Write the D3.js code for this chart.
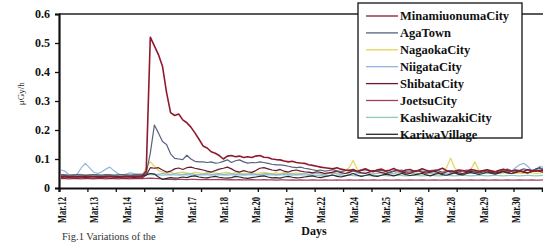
<!DOCTYPE html>
<html><head><meta charset="utf-8">
<script src="https://cdn.jsdelivr.net/npm/d3@7"></script>
<style>
html,body{margin:0;padding:0;background:#fff;}
svg{display:block;font-family:"Liberation Serif","Times New Roman",serif;}
</style></head>
<body><svg id="c" width="543" height="243"></svg>
<script>
// ---- data (3-hourly categories) ----
const dateLabels = ["Mar.12","Mar.13","Mar.14","Mar.16","Mar.17","Mar.18","Mar.20","Mar.21","Mar.22","Mar.24","Mar.25","Mar.26","Mar.28","Mar.29","Mar.30"];
const labelEvery = 8;   // one date label every 8 categories
const tickEvery = 7;    // tick mark every 7 categories
const categoryCount = 121;
const yTicks = [0,0.1,0.2,0.3,0.4,0.5,0.6];

const cityNames = ["MinamiuonumaCity","AgaTown","NagaokaCity","NiigataCity","ShibataCity","JoetsuCity","KashiwazakiCity","KariwaVillage"];
const cityColors = ["#8e1a2c","#56627e","#e2d55a","#93b4e0","#6a1a2a","#a04068","#8fcac0","#2a2a2a"];

const minamiuonuma = [0.04,0.04,0.039,0.04,0.038,0.039,0.04,0.04,0.039,0.038,0.039,0.04,0.04,0.039,0.038,0.039,0.04,0.039,0.04,0.04,0.041,
 0.06,0.52,0.49,0.46,0.42,0.33,0.26,0.25,0.255,0.235,0.225,0.21,0.19,0.168,0.145,0.138,0.125,0.12,0.112,0.1,
 0.11,0.112,0.108,0.11,0.105,0.108,0.105,0.11,0.112,0.106,0.105,0.1,0.098,0.097,0.093,0.09,0.092,0.088,0.086,0.085,
 0.08,0.078,0.075,0.072,0.07,0.068,0.066,0.07,0.065,0.062,
 0.06,0.064,0.058,0.062,0.066,0.06,0.057,0.063,0.065,0.059,0.061,0.067,0.06,0.056,0.062,0.064,0.058,0.06,0.066,0.061,
 0.057,0.059,0.063,0.068,0.06,0.055,0.058,0.062,0.06,0.057,0.064,0.061,0.058,0.06,0.063,0.059,0.056,0.061,0.065,0.06,
 0.058,0.062,0.059,0.057,0.063,0.06,0.058,0.061,0.059,0.057];
const agaTown = [0.046,0.045,0.044,0.045,0.046,0.045,0.044,0.045,0.046,0.045,0.044,0.046,0.045,0.044,0.045,0.046,0.045,0.044,0.045,0.046,0.045,
 0.05,0.12,0.217,0.19,0.16,0.15,0.118,0.102,0.1,0.098,0.113,0.1,0.092,0.09,0.09,0.088,0.09,0.086,0.087,0.092,
 0.097,0.088,0.094,0.097,0.09,0.086,0.088,0.087,0.09,0.088,0.085,0.082,0.08,0.08,0.078,0.075,0.072,0.07,0.072,0.068,
 0.066,0.063,0.06,0.062,0.058,0.06,0.063,0.059,0.057,0.06,0.062,0.058,0.055,0.06,0.063,0.058,0.056,0.059,0.061,0.057,
 0.054,0.058,0.06,0.062,0.057,0.055,0.059,0.061,0.058,0.056,0.06,0.062,0.059,0.055,0.057,0.06,0.058,0.056,0.059,0.062,
 0.06,0.057,0.055,0.058,0.061,0.059,0.056,0.058,0.062,0.065,0.06,0.058,0.061,0.066,0.063,0.06,0.064,0.068,0.065,0.062];
const nagaoka = [0.043,0.042,0.043,0.044,0.042,0.043,0.042,0.044,0.043,0.042,0.043,0.044,0.043,0.042,0.043,0.042,0.044,0.043,0.042,0.043,0.044,
 0.07,0.09,0.075,0.06,0.055,0.052,0.054,0.05,0.053,0.055,0.052,0.05,0.054,0.052,0.05,0.053,0.055,0.051,0.05,0.052,
 0.054,0.05,0.052,0.053,0.05,0.051,0.053,0.05,0.052,0.054,0.051,0.05,0.052,0.05,0.053,0.051,0.05,0.052,0.05,0.051,
 0.053,0.05,0.052,0.05,0.051,0.053,0.05,0.052,0.051,0.06,0.07,0.095,0.065,0.052,0.05,0.053,0.051,0.05,0.052,0.054,
 0.05,0.051,0.053,0.05,0.052,0.05,0.054,0.051,0.05,0.052,0.053,0.05,0.051,0.052,0.07,0.103,0.07,0.052,0.05,0.053,
 0.065,0.09,0.06,0.051,0.05,0.053,0.052,0.05,0.051,0.053,0.05,0.052,0.051,0.05,0.053,0.052,0.05,0.051,0.053,0.052];
const niigata = [0.062,0.058,0.045,0.04,0.048,0.07,0.085,0.07,0.055,0.05,0.055,0.065,0.072,0.06,0.05,0.045,0.048,0.052,0.05,0.048,0.05,
 0.052,0.05,0.048,0.047,0.05,0.048,0.046,0.05,0.048,0.047,0.049,0.05,0.047,0.046,0.048,0.05,0.047,0.048,0.05,0.046,
 0.048,0.05,0.047,0.049,0.046,0.048,0.05,0.047,0.046,0.049,0.05,0.048,0.046,0.047,0.05,0.048,0.049,0.046,0.048,0.05,
 0.047,0.049,0.05,0.048,0.046,0.05,0.052,0.049,0.047,0.05,0.053,0.05,0.048,0.052,0.055,0.05,0.048,0.051,0.054,0.05,
 0.052,0.049,0.055,0.052,0.05,0.053,0.05,0.048,0.052,0.055,0.05,0.053,0.051,0.049,0.052,0.05,0.054,0.051,0.05,0.053,
 0.052,0.05,0.055,0.052,0.05,0.054,0.051,0.055,0.06,0.056,0.058,0.07,0.08,0.085,0.075,0.06,0.065,0.075,0.07,0.06];
const shibata = [0.036,0.035,0.036,0.035,0.034,0.035,0.036,0.035,0.034,0.035,0.036,0.035,0.034,0.035,0.036,0.035,0.034,0.035,0.036,0.035,0.035,
 0.045,0.07,0.068,0.07,0.062,0.055,0.058,0.066,0.069,0.064,0.07,0.072,0.068,0.065,0.062,0.058,0.055,0.06,0.065,0.068,
 0.072,0.066,0.058,0.055,0.06,0.056,0.054,0.06,0.068,0.07,0.066,0.062,0.06,0.064,0.058,0.055,0.06,0.062,0.058,0.056,
 0.055,0.052,0.056,0.054,0.05,0.052,0.055,0.058,0.053,0.05,0.054,0.06,0.056,0.052,0.05,0.055,0.06,0.057,0.053,0.05,
 0.054,0.058,0.062,0.055,0.052,0.05,0.056,0.06,0.054,0.051,0.055,0.058,0.053,0.05,0.056,0.06,0.055,0.052,0.05,0.054,
 0.058,0.055,0.052,0.056,0.06,0.054,0.051,0.055,0.058,0.054,0.05,0.053,0.057,0.055,0.052,0.056,0.06,0.057,0.054,0.052];
const joetsu = [0.032,0.032,0.031,0.032,0.032,0.031,0.032,0.032,0.031,0.032,0.032,0.031,0.032,0.032,0.031,0.032,0.032,0.031,0.032,0.032,0.032,
 0.033,0.034,0.033,0.032,0.031,0.03,0.03,0.029,0.03,0.03,0.029,0.03,0.03,0.029,0.029,0.03,0.029,0.029,0.03,0.029,
 0.028,0.029,0.028,0.029,0.028,0.028,0.029,0.028,0.028,0.029,0.028,0.028,0.027,0.028,0.028,0.027,0.028,0.027,0.028,0.027,
 0.027,0.028,0.027,0.027,0.028,0.027,0.027,0.028,0.027,0.027,0.028,0.027,0.027,0.028,0.027,0.027,0.028,0.027,0.027,0.028,
 0.027,0.027,0.028,0.027,0.027,0.028,0.027,0.027,0.028,0.027,0.027,0.028,0.027,0.027,0.028,0.027,0.027,0.028,0.027,0.027,
 0.028,0.027,0.027,0.028,0.027,0.027,0.028,0.027,0.027,0.028,0.027,0.027,0.028,0.027,0.027,0.028,0.027,0.027,0.028,0.027];
const kashiwazaki = [0.046,0.045,0.046,0.045,0.046,0.047,0.045,0.046,0.045,0.046,0.045,0.046,0.047,0.045,0.046,0.045,0.046,0.045,0.046,0.047,0.046,
 0.046,0.047,0.046,0.045,0.044,0.045,0.046,0.045,0.044,0.045,0.046,0.045,0.044,0.045,0.046,0.045,0.044,0.045,0.046,0.045,
 0.044,0.045,0.046,0.045,0.044,0.045,0.046,0.045,0.044,0.045,0.046,0.045,0.044,0.045,0.046,0.045,0.044,0.045,0.046,0.045,
 0.044,0.043,0.044,0.043,0.042,0.043,0.044,0.043,0.042,0.043,0.044,0.043,0.042,0.043,0.044,0.043,0.042,0.043,0.044,0.043,
 0.042,0.043,0.044,0.043,0.042,0.043,0.044,0.043,0.042,0.043,0.044,0.043,0.042,0.043,0.044,0.043,0.042,0.043,0.044,0.043,
 0.042,0.043,0.044,0.043,0.042,0.043,0.044,0.043,0.042,0.043,0.044,0.043,0.042,0.043,0.044,0.043,0.042,0.043,0.044,0.043];
const kariwa = [0.04,0.041,0.04,0.039,0.04,0.041,0.04,0.039,0.04,0.041,0.04,0.039,0.04,0.041,0.04,0.039,0.04,0.041,0.04,0.039,0.042,
 0.045,0.05,0.048,0.038,0.03,0.033,0.036,0.034,0.035,0.038,0.036,0.04,0.042,0.038,0.036,0.035,0.038,0.04,0.037,0.035,
 0.034,0.036,0.04,0.038,0.035,0.033,0.036,0.038,0.04,0.042,0.038,0.035,0.036,0.034,0.038,0.04,0.037,0.035,0.036,0.038,
 0.04,0.042,0.038,0.036,0.039,0.042,0.045,0.04,0.038,0.042,0.045,0.05,0.044,0.04,0.043,0.047,0.042,0.04,0.044,0.048,
 0.045,0.042,0.046,0.05,0.046,0.043,0.045,0.048,0.05,0.045,0.042,0.047,0.05,0.046,0.044,0.048,0.052,0.047,0.045,0.05,
 0.054,0.05,0.047,0.05,0.055,0.05,0.048,0.052,0.056,0.052,0.05,0.055,0.06,0.055,0.052,0.058,0.065,0.07,0.06,0.055];

const seriesValues = [minamiuonuma, agaTown, nagaoka, niigata, shibata, joetsu, kashiwazaki, kariwa];

// ---- drawing ----
const svg = d3.select("#c");
const plotLeft = 59, plotRight = 550, plotTop = 14, plotBottom = 188;

const x = d3.scaleLinear().domain([0, categoryCount]).range([plotLeft, plotRight]);
const y = d3.scaleLinear().domain([0, 0.6]).range([plotBottom, plotTop]);

svg.append("rect").attr("width",543).attr("height",243).attr("fill","#fff");

svg.append("defs").append("clipPath").attr("id","clip")
  .append("rect").attr("x",plotLeft).attr("y",plotTop-2).attr("width",plotRight-plotLeft).attr("height",plotBottom-plotTop+2);

// top frame line
svg.append("line").attr("x1",plotLeft).attr("x2",plotRight).attr("y1",y(0.6)).attr("y2",y(0.6))
  .attr("stroke","#222").attr("stroke-width",1.6);

// lines
const line = d3.line().x((d,i)=>x(i+0.5)).y(d=>y(d)).curve(d3.curveLinear);
const g = svg.append("g").attr("clip-path","url(#clip)");
const drawOrder = [6,5,2,3,7,4,1,0];
drawOrder.forEach(k=>{
  g.append("path").datum(seriesValues[k]).attr("d",line)
    .attr("fill","none").attr("stroke",cityColors[k])
    .attr("stroke-width", k===0 ? 1.6 : 1.2).attr("stroke-linejoin","round");
});

// y axis
const yAxis = svg.append("g").attr("transform",`translate(${plotLeft},0)`)
  .call(d3.axisLeft(y).tickValues(yTicks).tickSize(4).tickPadding(5)
        .tickFormat(d=> d===0 ? "0" : d3.format(".1f")(d)));
yAxis.select(".domain").attr("stroke","#111").attr("stroke-width",2.2);
yAxis.selectAll(".tick line").attr("stroke","#111").attr("stroke-width",1.3);
yAxis.selectAll(".tick text").attr("font-family","Liberation Serif, serif").attr("font-weight","bold")
  .attr("font-size",12).attr("fill","#111");

// x axis (tick marks)
const xAxis = svg.append("g").attr("transform",`translate(0,${plotBottom})`)
  .call(d3.axisBottom(x).tickValues(d3.range(0, categoryCount+1, tickEvery)).tickSize(4).tickFormat(""));
xAxis.select(".domain").attr("stroke","#111").attr("stroke-width",2.2);
xAxis.selectAll(".tick line").attr("stroke","#111").attr("stroke-width",1.3);

// x axis labels
const xLab = svg.append("g").attr("transform",`translate(0,${plotBottom})`)
  .call(d3.axisBottom(x).tickValues(dateLabels.map((_,i)=>i*labelEvery+0.5)).tickSize(0)
        .tickFormat((d,i)=>dateLabels[i]));
xLab.select(".domain").remove();
xLab.selectAll(".tick text")
  .attr("font-family","Liberation Serif, serif").attr("font-weight","bold").attr("font-size",11.5)
  .attr("fill","#111")
  .attr("transform","rotate(-90)").attr("text-anchor","end")
  .attr("x",-9).attr("y",0).attr("dy","0.36em")
  .attr("textLength",26).attr("lengthAdjust","spacingAndGlyphs");

// axis titles
svg.append("text").attr("transform",`translate(24,${(y(0.3)+y(0.35))/2}) rotate(-90)`)
  .attr("text-anchor","middle").attr("font-size",9).attr("fill","#222").text("μGy/h");
svg.append("text").attr("x",314).attr("y",235).attr("text-anchor","middle")
  .attr("font-weight","bold").attr("font-size",12).attr("fill","#111").text("Days");
svg.append("text").attr("x",62).attr("y",240).attr("font-size",10.5).attr("fill","#333")
  .text("Fig.1 Variations of the");

// legend
const leg = svg.append("g");
leg.append("rect").attr("x",358).attr("y",3).attr("width",164).attr("height",135)
  .attr("fill","#fff").attr("stroke","#111").attr("stroke-width",1.3);
cityNames.forEach((name,k)=>{
  const ly = 16 + k*16.9;
  leg.append("line").attr("x1",366).attr("x2",398).attr("y1",ly).attr("y2",ly)
    .attr("stroke",cityColors[k]).attr("stroke-width",1.3);
  leg.append("text").attr("x",400).attr("y",ly).attr("dy","0.35em")
    .attr("font-weight","bold").attr("font-size",12.5).attr("fill","#111").text(name);
});
</script></body></html>
